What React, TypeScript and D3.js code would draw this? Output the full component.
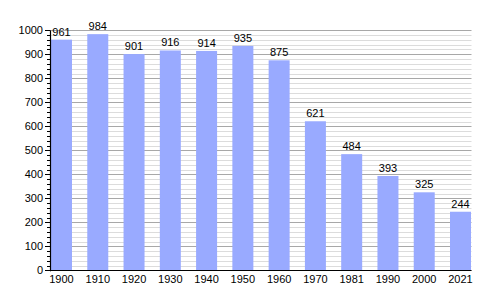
import React from "react";
import * as d3 from "d3";

const years = ["1900", "1910", "1920", "1930", "1940", "1950", "1960", "1970", "1981", "1990", "2000", "2021"];
const population = [961, 984, 901, 916, 914, 935, 875, 621, 484, 393, 325, 244];
const majorTicks = [0, 100, 200, 300, 400, 500, 600, 700, 800, 900, 1000];

const W = 500;
const H = 300;
const left = 50;
const right = 471.5;
const top = 30.3;
const bottom = 270.3;

export default function App() {
  const x = d3.scaleBand<string>().domain(years).range([51, 471]).paddingInner(0.421).paddingOuter(0);
  const y = d3.scaleLinear().domain([0, 1000]).range([bottom, top]);
  const minor = d3.range(0, 1001, 20).filter((v) => v % 100 !== 0);
  const font = "'Liberation Sans', Arial, sans-serif";
  return (
    <svg width={W} height={H} style={{ position: "absolute", left: 0, top: 0 }} fontFamily={font}>
      <rect width={W} height={H} fill="#fff" />
      {minor.map((v) => (
        <line key={"m" + v} x1={left} x2={right} y1={Math.round(y(v)) + 0.5} y2={Math.round(y(v)) + 0.5} stroke="#dcdcdc" strokeWidth={1} />
      ))}
      {majorTicks.map((v) => (
        <line key={"M" + v} x1={left} x2={right} y1={Math.round(y(v)) + 0.5} y2={Math.round(y(v)) + 0.5} stroke="#a8a8a8" strokeWidth={1} />
      ))}
      {years.map((yr, i) => (
        <rect key={yr} x={x(yr)} y={y(population[i])} width={x.bandwidth()} height={bottom - y(population[i])} fill="#99aaff" />
      ))}
      {years.map((yr, i) => (
        <text key={"v" + yr} x={(x(yr) as number) + x.bandwidth() / 2} y={y(population[i]) - 4} fontSize={11} textAnchor="middle" fill="#000">
          {population[i]}
        </text>
      ))}
      {minor.map((v) => (
        <line key={"mt" + v} x1={left - 3} x2={left} y1={Math.round(y(v)) + 0.5} y2={Math.round(y(v)) + 0.5} stroke="#000" strokeWidth={1} />
      ))}
      {majorTicks.map((v) => (
        <g key={"t" + v}>
          <line x1={left - 5} x2={left} y1={Math.round(y(v)) + 0.5} y2={Math.round(y(v)) + 0.5} stroke="#000" strokeWidth={1} />
          <text x={left - 7} y={y(v) + 4} fontSize={11} textAnchor="end" fill="#000">
            {v}
          </text>
        </g>
      ))}
      <line x1={left + 0.5} x2={left + 0.5} y1={top} y2={bottom + 1} stroke="#000" strokeWidth={1.2} />
      <line x1={left} x2={right} y1={Math.round(bottom) + 0.5} y2={Math.round(bottom) + 0.5} stroke="#000" strokeWidth={1.2} />
      {years.map((yr) => (
        <text key={"x" + yr} x={(x(yr) as number) + x.bandwidth() / 2} y={bottom + 13} fontSize={11} textAnchor="middle" fill="#000">
          {yr}
        </text>
      ))}
    </svg>
  );
}
